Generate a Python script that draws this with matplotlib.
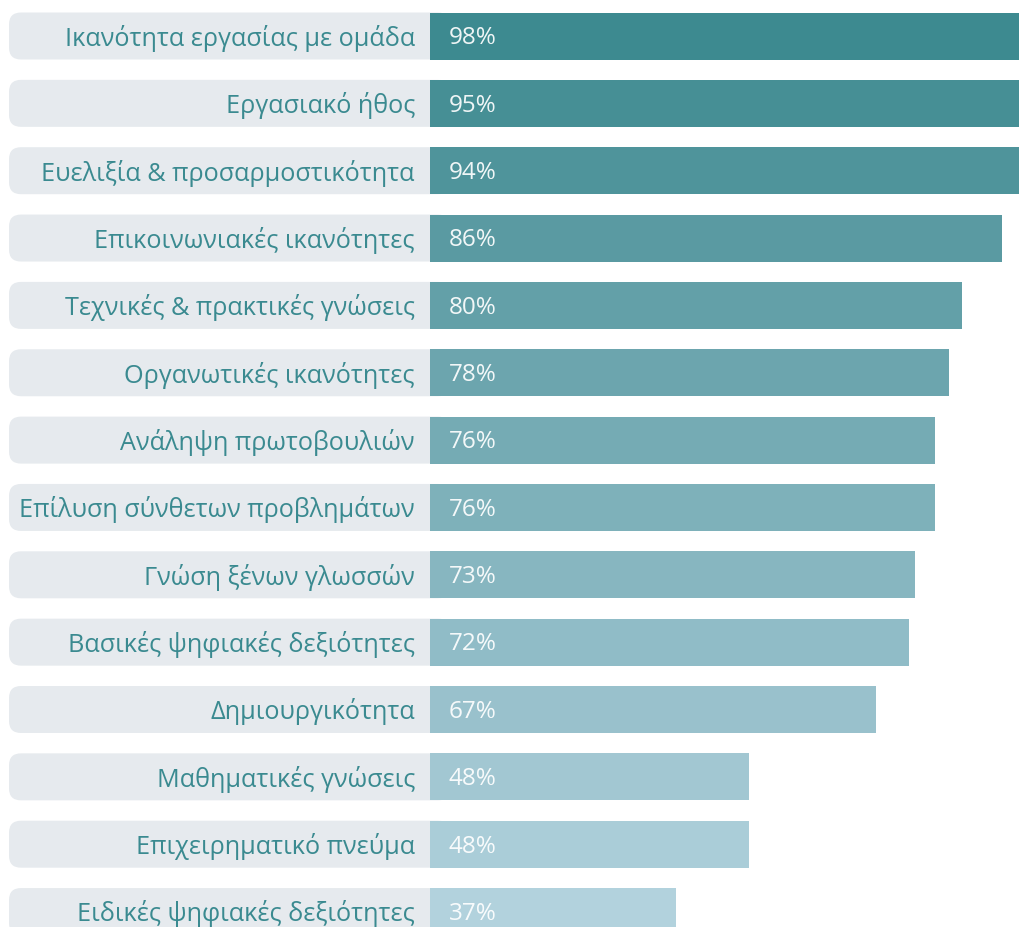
import matplotlib.pyplot as plt
from matplotlib.patches import FancyBboxPatch

plt.rcParams['font.family'] = ['Open Sans', 'DejaVu Sans']

skills = ['Ικανότητα εργασίας με ομάδα', 'Εργασιακό ήθος', 'Ευελιξία & προσαρμοστικότητα',
          'Επικοινωνιακές ικανότητες', 'Τεχνικές & πρακτικές γνώσεις', 'Οργανωτικές ικανότητες',
          'Ανάληψη πρωτοβουλιών', 'Επίλυση σύνθετων προβλημάτων', 'Γνώση ξένων γλωσσών',
          'Βασικές ψηφιακές δεξιότητες', 'Δημιουργικότητα', 'Μαθηματικές γνώσεις',
          'Επιχειρηματικό πνεύμα', 'Ειδικές ψηφιακές δεξιότητες']
values = [98, 95, 94, 86, 80, 78, 76, 76, 73, 72, 67, 48, 48, 37]
colors = ['#3d8a90', '#468f95', '#4f949b', '#5a9aa2', '#63a0a8', '#6ca5ae', '#75abb4',
          '#7eb1ba', '#87b6c0', '#90bcc7', '#99c1cc', '#a2c7d2', '#aacdd8', '#b2d2dd']

W, H = 1019, 928
px_x = 6.65     # pixels per percent
px_y = 67.35    # pixels per row
x0_px = 430
y0_px = 37

fig = plt.figure(figsize=(W / 100, H / 100), dpi=100)
ax = fig.add_axes([0, 0, 1, 1])
ax.set_xlim(-x0_px / px_x, (W - x0_px) / px_x)
ax.set_ylim((H - y0_px) / px_y, -y0_px / px_y)
ax.axis('off')

bh = 47 / px_y
for i, (name, v, c) in enumerate(zip(skills, values, colors)):
    # grey label background with rounded left corners
    bg = FancyBboxPatch((-421 / px_x, i - bh / 2), 421 / px_x + 3, bh,
                        boxstyle='round,pad=0,rounding_size=%f' % (12 / px_x),
                        mutation_aspect=px_x / px_y,
                        fc='#e6eaee', ec='none', zorder=1)
    ax.add_patch(bg)
    ax.barh(i, v, height=bh, color=c, zorder=2)
    ax.text(-15 / px_x, i + 0.02, name, ha='right', va='center', fontsize=18.2,
            color='#3a8a90', zorder=3)
    ax.text(19 / px_x, i + 0.02, '%d%%' % v, ha='left', va='center', fontsize=17.5,
            color='white', alpha=0.92, zorder=3)

fig.savefig('out.png', dpi=100)
